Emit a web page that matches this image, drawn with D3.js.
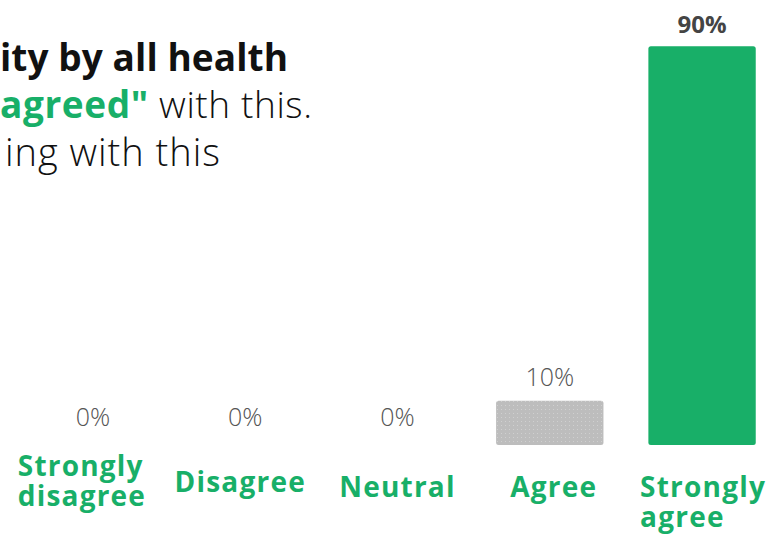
<!DOCTYPE html>
<html>
<head>
<meta charset="utf-8">
<script src="https://cdn.jsdelivr.net/npm/d3@7"></script>
<style>
  html, body { margin: 0; padding: 0; background: #fff; }
  svg { display: block; }
</style>
</head>
<body>
<svg id="chart" width="783" height="535"></svg>
<script>
// Survey response categories and share of respondents (%)
const categories = ["Strongly disagree", "Disagree", "Neutral", "Agree", "Strongly agree"];
const labelLines = [["Strongly", "disagree"], ["Disagree"], ["Neutral"], ["Agree"], ["Strongly", "agree"]];
const values = [0, 0, 0, 10, 90];
const valueLabels = ["0%", "0%", "0%", "10%", "90%"];

// Title lines (the headline runs past the left edge of the frame)
const titleLine1 = "ity by all health";
const titleLine2Accent = "agreed\"";
const titleLine2Rest = " with this.";
const titleLine3 = "ing with this";

// Small per-category nudges for the category captions
const captionDx = [-11, -5, 0, 4, 1];
const captionDy = [-21, -5, 0, 0, 0];

const GREEN = "#18af68";
const GREY = "#bdbdbd";
const svg = d3.select("#chart");

const x = d3.scaleBand()
  .domain(categories)
  .range([16.8, 778.2])
  .paddingInner(0.295)
  .paddingOuter(0.1475);

const y = d3.scaleLinear().domain([0, 100]).range([445, 2]);

// Dotted texture for the neutral-toned bar
const defs = svg.append("defs");
const pat = defs.append("pattern")
  .attr("id", "dots")
  .attr("width", 4).attr("height", 4)
  .attr("patternUnits", "userSpaceOnUse");
pat.append("rect").attr("width", 4).attr("height", 4).attr("fill", GREY);
pat.append("rect").attr("x", 1).attr("y", 1).attr("width", 1).attr("height", 1)
  .attr("fill", "#d0d0d0");

const fills = categories.map((c, i) => i === categories.length - 1 ? GREEN : "url(#dots)");

// Bars
svg.append("g").selectAll("rect")
  .data(categories)
  .join("rect")
  .attr("x", d => x(d))
  .attr("width", x.bandwidth())
  .attr("y", (d, i) => y(values[i]))
  .attr("height", (d, i) => y(0) - y(values[i]))
  .attr("rx", 2.5)
  .attr("fill", (d, i) => fills[i]);

// Value labels (empty bars keep their label clear of the baseline)
svg.append("g").selectAll("text")
  .data(categories)
  .join("text")
  .attr("x", d => x(d) + x.bandwidth() / 2)
  .attr("y", (d, i) => y(Math.max(values[i], 1)) - (values[i] >= 50 ? 13 : 15))
  .attr("text-anchor", "middle")
  .attr("font-family", "'Open Sans', sans-serif")
  .attr("font-size", (d, i) => i === categories.length - 1 ? 24 : 25)
  .attr("font-weight", (d, i) => i === categories.length - 1 ? 700 : 300)
  .attr("fill", (d, i) => i === categories.length - 1 ? "#444" : "#555")
  .text((d, i) => valueLabels[i]);

// Category captions: one text per line, left-aligned, block centred under each bar
const capG = svg.append("g");
categories.forEach((c, i) => {
  const g = capG.append("g")
    .attr("font-family", "'Open Sans', sans-serif")
    .attr("font-size", 28)
    .attr("font-weight", 700)
    .attr("letter-spacing", 1.2)
    .attr("fill", GREEN);
  labelLines[i].forEach((line, k) => {
    g.append("text").attr("x", 0).attr("y", k * 30).text(line);
  });
  const bw = g.node().getBBox().width;
  const cx = x(c) + x.bandwidth() / 2 + captionDx[i];
  g.attr("transform", `translate(${cx - bw / 2},${497 + captionDy[i]})`);
});

// Title: each line right-aligned, tracked out so it spans from the frame edge
const tg = svg.append("g")
  .attr("font-family", "'Open Sans', sans-serif")
  .attr("font-size", 37)
  .attr("text-anchor", "end");

function track(sel, left, right) {
  const node = sel.node();
  const n = node.getNumberOfChars();
  const w = node.getComputedTextLength();
  const ls = (right - left - w) / Math.max(n - 1, 1);
  sel.attr("letter-spacing", ls).attr("x", right + ls);
}

const t1 = tg.append("text")
  .attr("y", 71)
  .attr("font-weight", 700)
  .attr("fill", "#111")
  .text(titleLine1);
track(t1, 0, 288);

const t2 = tg.append("text").attr("y", 118);
t2.append("tspan").attr("font-weight", 700).attr("fill", GREEN).text(titleLine2Accent);
t2.append("tspan").attr("font-weight", 300).attr("fill", "#111").text(titleLine2Rest);
track(t2, 0, 312);

const t3 = tg.append("text")
  .attr("y", 166)
  .attr("font-size", 38)
  .attr("font-weight", 300)
  .attr("fill", "#111")
  .text(titleLine3);
track(t3, 5, 220);
</script>
</body>
</html>
